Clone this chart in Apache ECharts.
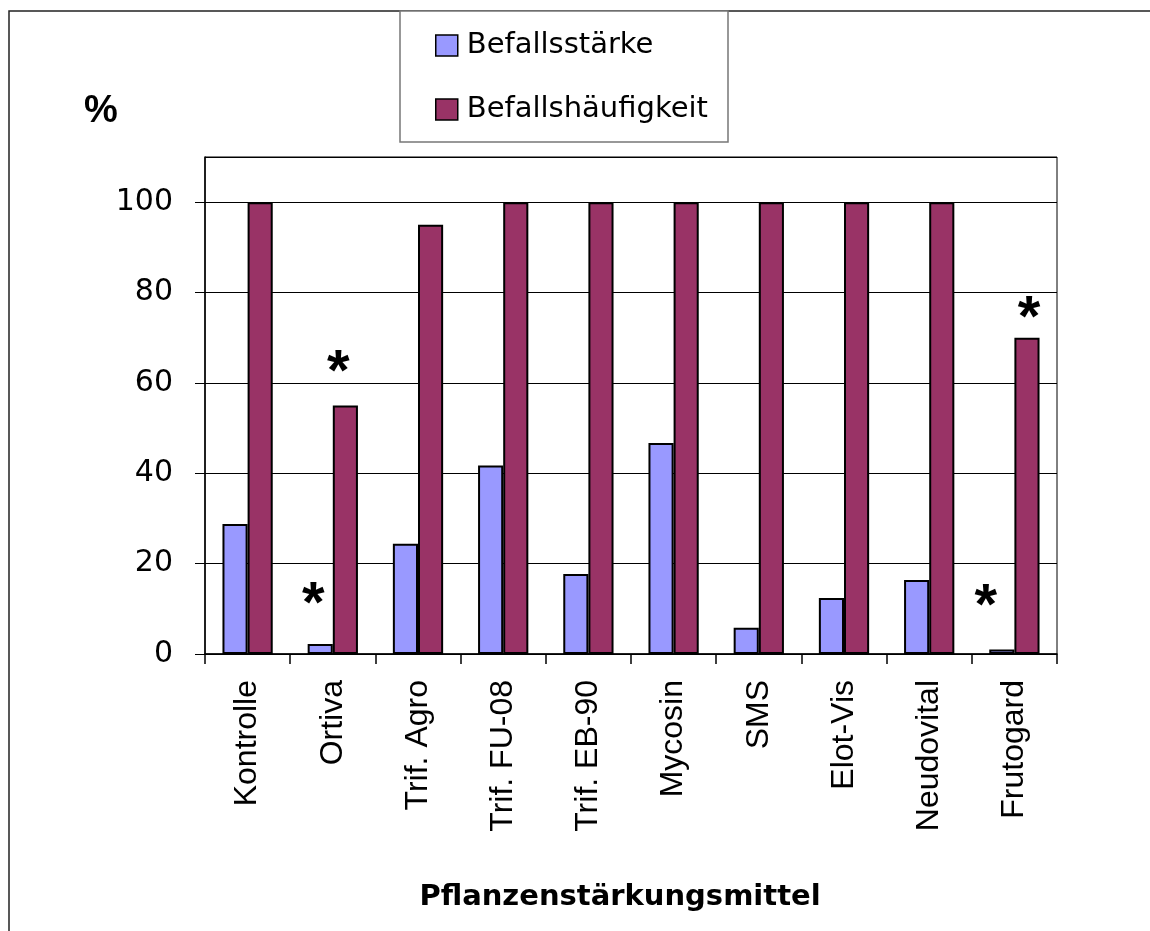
<!DOCTYPE html>
<html>
<head>
<meta charset="utf-8">
<script src="https://cdn.jsdelivr.net/npm/echarts@6/dist/echarts.min.js"></script>
<style>html,body{margin:0;padding:0;background:#fff;}#c{width:1150px;height:931px;}</style>
</head>
<body>
<div id="c"></div>
<script>
var categories = ['Kontrolle','Ortiva','Trif. Agro','Trif. FU-08','Trif. EB-90','Mycosin','SMS','Elot-Vis','Neudovital','Frutogard'];
var seriesNames = ['Befallsstärke','Befallshäufigkeit'];
var befallsstaerke = [28.8, 2.2, 24.4, 41.7, 17.7, 46.7, 5.8, 12.4, 16.4, 1.0];
var befallshaeufigkeit = [100, 55, 95, 100, 100, 100, 100, 100, 100, 70];
var yTicks = [0, 20, 40, 60, 80, 100];
var starsStaerke = {1: [-7, -4], 9: [-16, -7]};
var starsHaeufigkeit = {1: [-7, 2], 9: [2, 16]};

function withStars(values, stars) {
  return values.map(function (v, i) {
    if (!stars[i]) return v;
    return {
      value: v,
      label: {
        show: true, position: 'top', formatter: '*', distance: 5,
        fontFamily: 'Liberation Sans', fontWeight: 'bold', fontSize: 58, color: '#000',
        offset: stars[i]
      }
    };
  });
}

var chart = echarts.init(document.getElementById('c'), null, {renderer: 'canvas'});
chart.setOption({
  animation: false,
  backgroundColor: '#fff',
  grid: {left: 205, right: 93, top: 157, bottom: 277, show: true, borderColor: '#000', borderWidth: 1},
  legend: {
    data: seriesNames, orient: 'vertical', left: 435, top: 31, padding: 0,
    itemWidth: 22, itemHeight: 21, itemGap: 35,
    icon: 'rect',
    itemStyle: {borderColor: '#000', borderWidth: 1.5},
    textStyle: {fontFamily: 'DejaVu Sans', fontSize: 29, color: '#000', lineHeight: 28, padding: [0, 0, 0, 4]}
  },
  xAxis: {
    type: 'category', data: categories,
    axisLine: {lineStyle: {color: '#000', width: 1.5}},
    axisTick: {show: true, length: 10, lineStyle: {color: '#000', width: 1.5}},
    axisLabel: {rotate: 90, margin: 26, fontFamily: 'Liberation Sans', fontSize: 32, color: '#000', interval: 0}
  },
  yAxis: {
    type: 'value', min: 0, max: 110, interval: 20,
    axisLine: {show: true, lineStyle: {color: '#000', width: 1.5}},
    axisTick: {show: true, length: 10, lineStyle: {color: '#000', width: 1}},
    splitLine: {show: true, lineStyle: {color: '#000', width: 1}},
    axisLabel: {
      margin: 32, fontFamily: 'DejaVu Sans', fontSize: 30, color: '#000', showMaxLabel: false,
      formatter: function (v) { return yTicks.indexOf(v) >= 0 ? String(v) : ''; }
    }
  },
  series: [
    {name: seriesNames[0], type: 'bar', data: withStars(befallsstaerke, starsStaerke), barGap: '0%', barCategoryGap: '41%',
     itemStyle: {color: '#9999FF', borderColor: '#000', borderWidth: 2}},
    {name: seriesNames[1], type: 'bar', data: withStars(befallshaeufigkeit, starsHaeufigkeit), barGap: '0%', barCategoryGap: '41%',
     itemStyle: {color: '#993366', borderColor: '#000', borderWidth: 2}}
  ],
  graphic: [
    {type: 'rect', shape: {x: 9, y: 11, width: 1200, height: 1000}, style: {fill: null, stroke: '#222', lineWidth: 1.5}, z: -10},
    {type: 'rect', shape: {x: 400, y: 11, width: 328, height: 131}, style: {fill: '#fff', stroke: '#777', lineWidth: 1.5}, z: -5},
    {type: 'text', x: 101, y: 112, style: {text: '%', fontFamily: 'Liberation Sans', fontWeight: 'bold', fontSize: 38, fill: '#000', textAlign: 'center', textVerticalAlign: 'middle'}},
    {type: 'text', x: 620, y: 897, style: {text: 'Pflanzenstärkungsmittel', fontFamily: 'DejaVu Sans', fontWeight: 'bold', fontSize: 29, fill: '#000', textAlign: 'center', textVerticalAlign: 'middle'}}
  ]
});
</script>
</body>
</html>
